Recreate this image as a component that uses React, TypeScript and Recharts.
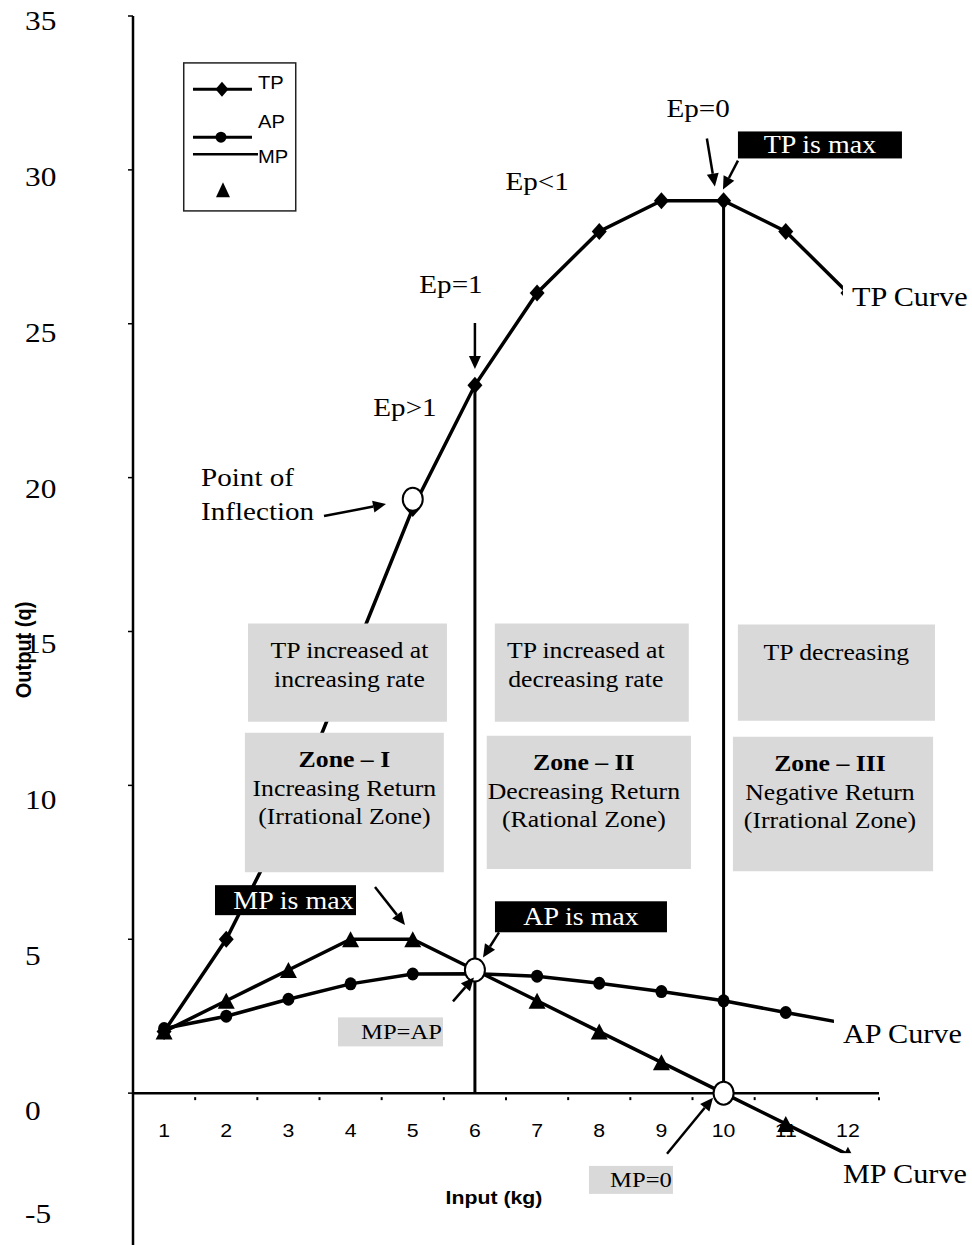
import React from 'react';
import {
  ComposedChart,
  Line,
  XAxis,
  YAxis,
  ReferenceLine,
  ReferenceDot,
  ReferenceArea,
  Scatter,
} from 'recharts';

// ---------------- data ----------------
const inputs = [1, 2, 3, 4, 5, 6, 7, 8, 9, 10, 11, 12];
const tpValues = [2, 5, 9, 14, 19, 23, 26, 28, 29, 29, 28, 26];
const apValues = [2.1, 2.5, 3.05, 3.55, 3.87, 3.88, 3.8, 3.57, 3.3, 3.0, 2.62, 2.25];
const mpValues = [2, 3, 4, 5, 5, 4, 3, 2, 1, 0, -1, -2];
const seriesNames = ['TP', 'AP', 'MP'];
const yTickValues = [-5, 0, 5, 10, 15, 20, 25, 30, 35];
const xTickValues = inputs;
const xTickBoundaries = [0.5, 1.5, 2.5, 3.5, 4.5, 5.5, 6.5, 7.5, 8.5, 9.5, 10.5, 11.5, 12.5];
const keyPoints = [
  { x: 5, y: 19.3 },
  { x: 6, y: 4 },
  { x: 10, y: 0 },
];
const zoneBoundaries = [6, 10];

const data = inputs.map((x, i) => ({ x, tp: tpValues[i], ap: apValues[i], mp: mpValues[i] }));

// ---------------- styling helpers ----------------
const SERIF = '"Liberation Serif", "Times New Roman", serif';
const SANS = '"Liberation Sans", Arial, sans-serif';
const SX = 1.12;

function T({ x, y, size, anchor = 'middle', weight = 'normal', family = SERIF, fill = '#000', rotate = 0, children }: any) {
  const tr = rotate
    ? `translate(${x},${y}) rotate(${rotate}) scale(1,${SX})`
    : `translate(${x},${y}) scale(${SX},1)`;
  return (
    <text
      transform={tr}
      x={0}
      y={0}
      fontSize={size}
      textAnchor={anchor}
      dominantBaseline="central"
      fontFamily={family}
      fontWeight={weight}
      fill={fill}
    >
      {children}
    </text>
  );
}

function Arrow({ tx, ty, dx, dy, w = 2.5 }: any) {
  const len = Math.hypot(dx, dy);
  const ux = -dx / len;
  const uy = -dy / len;
  const head = 13;
  const hw = 6;
  const bx = tx - ux * head;
  const by = ty - uy * head;
  const px = -uy;
  const py = ux;
  return (
    <g>
      <line x1={tx + dx} y1={ty + dy} x2={bx} y2={by} stroke="#000" strokeWidth={w} />
      <polygon
        points={`${tx},${ty} ${bx + px * hw},${by + py * hw} ${bx - px * hw},${by - py * hw}`}
        fill="#000"
      />
    </g>
  );
}

function FilledLabel({ cx, cy, w, h, bg, color, text, tdx = 0, size }: any) {
  return (
    <g>
      <rect x={cx - w / 2} y={cy - h / 2} width={w} height={h} fill={bg} />
      <T x={cx + tdx} y={cy} size={size} fill={color}>
        {text}
      </T>
    </g>
  );
}

function CurveLabel({ cx, cy, text }: any) {
  return (
    <g>
      <rect x={cx - 9} y={cy - 20} width={140} height={40} fill="#fff" />
      <T x={cx} y={cy} size={27} anchor="start">
        {text}
      </T>
    </g>
  );
}

function LegendBox({ x, y }: any) {
  return (
    <g transform={`translate(${x},${y})`}>
      <rect x={0.75} y={0.75} width={112} height={148} fill="#fff" stroke="#222" strokeWidth={1.5} />
      <line x1={10} y1={27} x2={69} y2={27} stroke="#000" strokeWidth={3} />
      <polygon points="39,19.5 45.5,27 39,34.5 32.5,27" fill="#000" />
      <T x={75} y={21} size={18} family={SANS} anchor="start">{seriesNames[0]}</T>
      <line x1={10} y1={75} x2={69} y2={75} stroke="#000" strokeWidth={3} />
      <circle cx={38} cy={75} r={5.5} fill="#000" />
      <T x={75} y={60} size={18} family={SANS} anchor="start">{seriesNames[1]}</T>
      <line x1={10} y1={92} x2={75} y2={92} stroke="#000" strokeWidth={2.5} />
      <T x={75} y={95} size={18} family={SANS} anchor="start">{seriesNames[2]}</T>
      <polygon points="40,120 47,135 33,135" fill="#000" />
    </g>
  );
}

// ---------------- annotation config ----------------
const boxes = [
  { x1: 2.35, x2: 5.55, y1: 15.26, y2: 12.07, dx: 2, lines: [{ t: 'TP increased at' }, { t: 'increasing rate' }] },
  { x1: 2.3, x2: 5.5, y1: 11.71, y2: 7.18, dx: 0, lines: [{ t: 'Zone – I', b: true }, { t: 'Increasing Return' }, { t: '(Irrational Zone)' }] },
  { x1: 6.32, x2: 9.44, y1: 15.26, y2: 12.07, dx: -6, lines: [{ t: 'TP increased at' }, { t: 'decreasing rate' }] },
  { x1: 6.19, x2: 9.475, y1: 11.61, y2: 7.28, dx: -5, lines: [{ t: 'Zone – II', b: true }, { t: 'Decreasing Return' }, { t: '(Rational Zone)' }] },
  { x1: 10.23, x2: 13.4, y1: 15.23, y2: 12.1, dx: 0, lines: [{ t: 'TP decreasing' }], first: 28 },
  { x1: 10.15, x2: 13.37, y1: 11.58, y2: 7.21, dx: -3, lines: [{ t: 'Zone – III', b: true }, { t: 'Negative Return' }, { t: '(Irrational Zone)' }] },
];
const lineOffsets = [26, 55, 83];

const notes: { x: number; y: number; draw: (cx: number, cy: number) => React.ReactNode }[] = [
  { x: 1.304, y: 33.5, draw: (cx, cy) => <LegendBox x={cx} y={cy} /> },
  { x: 9.59, y: 32.0, draw: (cx, cy) => <T x={cx} y={cy} size={26}>Ep=0</T> },
  { x: 7.0, y: 29.63, draw: (cx, cy) => <T x={cx} y={cy} size={26}>Ep&lt;1</T> },
  { x: 5.615, y: 26.3, draw: (cx, cy) => <T x={cx} y={cy} size={26}>Ep=1</T> },
  { x: 4.875, y: 22.3, draw: (cx, cy) => <T x={cx} y={cy} size={26}>Ep&gt;1</T> },
  {
    x: 1.594,
    y: 20.02,
    draw: (cx, cy) => (
      <g>
        <T x={cx} y={cy} size={26} anchor="start">Point of</T>
        <T x={cx} y={cy + 34} size={26} anchor="start">Inflection</T>
      </g>
    ),
  },
  { x: 11.55, y: 30.81, draw: (cx, cy) => <FilledLabel cx={cx} cy={cy} w={164} h={27} bg="#000" color="#fff" text="TP is max" size={25} /> },
  { x: 2.953, y: 6.27, draw: (cx, cy) => <FilledLabel cx={cx} cy={cy} w={141} h={30} bg="#000" color="#fff" text="MP is max" tdx={8} size={25} /> },
  { x: 7.706, y: 5.73, draw: (cx, cy) => <FilledLabel cx={cx} cy={cy} w={172} h={31} bg="#000" color="#fff" text="AP is max" size={25} /> },
  { x: 4.642, y: 1.99, draw: (cx, cy) => <FilledLabel cx={cx} cy={cy} w={105} h={29} bg="#d9d9d9" color="#000" text="MP=AP" tdx={11} size={22} /> },
  { x: 8.51, y: -2.82, draw: (cx, cy) => <FilledLabel cx={cx} cy={cy} w={84} h={28} bg="#d9d9d9" color="#000" text="MP=0" tdx={10} size={22} /> },
  { x: 12.065, y: 25.88, draw: (cx, cy) => <CurveLabel cx={cx} cy={cy} text="TP Curve" /> },
  { x: 11.92, y: 1.94, draw: (cx, cy) => <CurveLabel cx={cx} cy={cy} text="AP Curve" /> },
  { x: 11.92, y: -2.6, draw: (cx, cy) => <CurveLabel cx={cx} cy={cy} text="MP Curve" /> },
  { x: 6.307, y: -3.4, draw: (cx, cy) => <T x={cx} y={cy} size={19} family={SANS} weight="bold">Input (kg)</T> },
  { x: -1.27, y: 14.4, draw: (cx, cy) => <T x={cx} y={cy} size={20} family={SANS} weight="bold" rotate={-90}>Output (q)</T> },
  // arrows (anchored at the tip)
  { x: 9.86, y: 29.46, draw: (cx, cy) => <Arrow tx={cx} ty={cy} dx={-8} dy={-48} /> },
  { x: 9.99, y: 29.36, draw: (cx, cy) => <Arrow tx={cx} ty={cy} dx={15} dy={-29} /> },
  { x: 6.0, y: 23.53, draw: (cx, cy) => <Arrow tx={cx} ty={cy} dx={0} dy={-46} /> },
  { x: 4.57, y: 19.14, draw: (cx, cy) => <Arrow tx={cx} ty={cy} dx={-62} dy={12} /> },
  { x: 4.875, y: 5.46, draw: (cx, cy) => <Arrow tx={cx} ty={cy} dx={-30} dy={-38} /> },
  { x: 6.13, y: 4.41, draw: (cx, cy) => <Arrow tx={cx} ty={cy} dx={16} dy={-25} /> },
  { x: 5.985, y: 3.76, draw: (cx, cy) => <Arrow tx={cx} ty={cy} dx={-21} dy={24} /> },
  { x: 9.83, y: -0.15, draw: (cx, cy) => <Arrow tx={cx} ty={cy} dx={-46} dy={56} /> },
];

// ---------------- marks ----------------
function Diamond(p: any) {
  const { cx, cy, index } = p;
  if (cx == null || cy == null) return <g key={`d${index}`} />;
  return <polygon key={`d${index}`} points={`${cx},${cy - 8.5} ${cx + 7.5},${cy} ${cx},${cy + 8.5} ${cx - 7.5},${cy}`} fill="#000" />;
}
function Circle(p: any) {
  const { cx, cy, index } = p;
  if (cx == null || cy == null) return <g key={`c${index}`} />;
  return <ellipse key={`c${index}`} cx={cx} cy={cy} rx={6} ry={6.5} fill="#000" />;
}
function Tri(p: any) {
  const { cx, cy, index } = p;
  if (cx == null || cy == null) return <g key={`t${index}`} />;
  return <polygon key={`t${index}`} points={`${cx},${cy - 8} ${cx + 8.5},${cy + 8} ${cx - 8.5},${cy + 8}`} fill="#000" />;
}

function YTick(props: any) {
  const { y, payload } = props;
  const v = payload.value;
  const shift = v === -5 ? -33 : 5 + (35 - v) * 0.37;
  return (
    <T x={25} y={y + shift} size={28} anchor="start">
      {v}
    </T>
  );
}

export default function App() {
  return (
    <div style={{ position: 'absolute', left: 0, top: 0, width: 972, height: 1245, overflow: 'hidden', background: '#fff' }}>
      <ComposedChart width={972} height={1250} data={data} margin={{ top: 16, right: 93, bottom: 3, left: 0 }}>
        <XAxis dataKey="x" type="number" domain={[0.5, 12.5]} hide allowDataOverflow />
        <YAxis
          type="number"
          domain={[-5, 35]}
          ticks={yTickValues}
          interval={0}
          width={133}
          allowDataOverflow
          axisLine={{ stroke: '#000', strokeWidth: 2.5 }}
          tickLine={{ stroke: '#000', strokeWidth: 1.5 }}
          tickSize={5}
          tick={YTick}
        />
        <ReferenceLine y={0} stroke="#000" strokeWidth={2.5} ifOverflow="visible" />
        {zoneBoundaries.map((b) => (
          <ReferenceLine
            key={`z${b}`}
            segment={[
              { x: b, y: tpValues[inputs.indexOf(b)] },
              { x: b, y: 0 },
            ]}
            stroke="#000"
            strokeWidth={3}
            ifOverflow="visible"
          />
        ))}
        <Line dataKey="tp" name={seriesNames[0]} type="linear" stroke="#000" strokeWidth={3.5} dot={Diamond} activeDot={false} isAnimationActive={false} />
        <Line dataKey="ap" name={seriesNames[1]} type="linear" stroke="#000" strokeWidth={3.5} dot={Circle} activeDot={false} isAnimationActive={false} />
        <Line dataKey="mp" name={seriesNames[2]} type="linear" stroke="#000" strokeWidth={3.5} dot={Tri} activeDot={false} isAnimationActive={false} />
        <Scatter
          data={keyPoints}
          dataKey="y"
          isAnimationActive={false}
          shape={(p: any) => <ellipse cx={p.cx} cy={p.cy} rx={10} ry={11.5} fill="#fff" stroke="#000" strokeWidth={2} />}
        />
        {boxes.map((bx, i) => (
          <ReferenceArea
            key={`ba${i}`}
            x1={bx.x1}
            x2={bx.x2}
            y1={bx.y1}
            y2={bx.y2}
            fill="#d9d9d9"
            fillOpacity={1}
            stroke="none"
            ifOverflow="visible"
            zIndex={700}
          />
        ))}
        {boxes.map((bx, i) => (
          <ReferenceDot
            key={`bt${i}`}
            x={(bx.x1 + bx.x2) / 2}
            y={Math.max(bx.y1, bx.y2)}
            r={0}
            ifOverflow="visible"
            zIndex={800}
            shape={(p: any) => (
              <g>
                {bx.lines.map((ln: any, j: number) => (
                  <T key={j} x={p.cx + bx.dx} y={p.cy + (j === 0 && bx.first ? bx.first : lineOffsets[j])} size={23} weight={ln.b ? 'bold' : 'normal'}>
                    {ln.t}
                  </T>
                ))}
              </g>
            )}
          />
        ))}
        {xTickBoundaries.map((b) => (
          <ReferenceDot
            key={`xb${b}`}
            x={b}
            y={0}
            r={0}
            ifOverflow="visible"
            zIndex={800}
            shape={(p: any) => <line x1={p.cx} x2={p.cx} y1={p.cy + 4} y2={p.cy + 7} stroke="#000" strokeWidth={2} />}
          />
        ))}
        {xTickValues.map((v) => (
          <ReferenceDot
            key={`xt${v}`}
            x={v}
            y={0}
            r={0}
            ifOverflow="visible"
            zIndex={800}
            shape={(p: any) => (
              <T x={p.cx} y={p.cy + 37} size={19} family={SANS}>
                {v}
              </T>
            )}
          />
        ))}
        {notes.map((n, i) => (
          <ReferenceDot
            key={`n${i}`}
            x={n.x}
            y={n.y}
            r={0}
            ifOverflow="visible"
            zIndex={900}
            shape={(p: any) => <g>{n.draw(p.cx, p.cy)}</g>}
          />
        ))}
      </ComposedChart>
    </div>
  );
}
